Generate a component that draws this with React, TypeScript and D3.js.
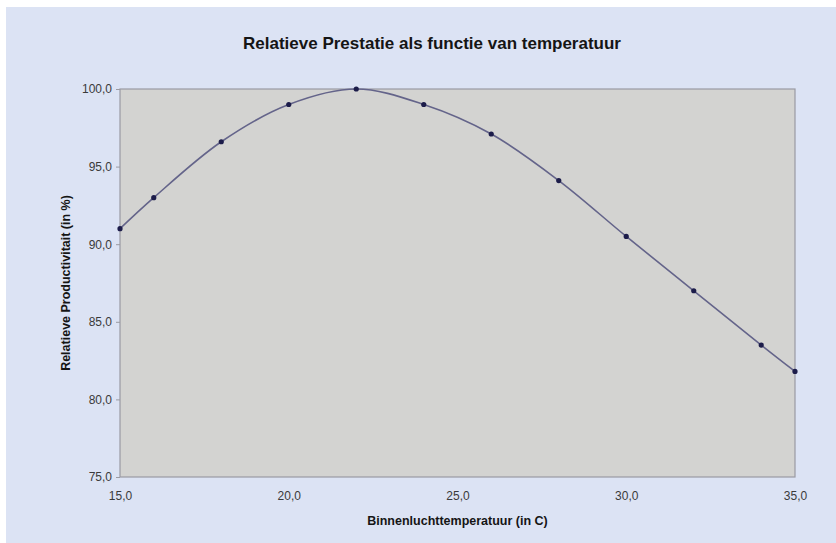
import React, { useRef, useEffect } from 'react';
import * as d3 from 'd3';

const TEMPS: number[] = [15, 16, 18, 20, 22, 24, 26, 28, 30, 32, 34, 35];
const PERFORMANCE: number[] = [91.0, 93.0, 96.6, 99.0, 100.0, 99.0, 97.1, 94.1, 90.5, 87.0, 83.5, 81.8];
const X_TICKS: number[] = [15, 20, 25, 30, 35];
const Y_TICKS: number[] = [75, 80, 85, 90, 95, 100];

const W = 836;
const H = 543;
const FONT = 'Liberation Sans, Arial, sans-serif';

const App: React.FC = () => {
  const svgRef = useRef<SVGSVGElement>(null);

  useEffect(() => {
    if (!svgRef.current) return;
    const svg = d3.select(svgRef.current);
    svg.selectAll('*').remove();

    const plot = { left: 120, right: 795, top: 89, bottom: 477 };
    const fmt = (v: number) => v.toFixed(1).replace('.', ',');

    // page + chart background
    svg.append('rect').attr('width', W).attr('height', H).attr('fill', '#ffffff');
    svg.append('rect')
      .attr('x', 6).attr('y', 7).attr('width', W - 6).attr('height', H - 7)
      .attr('fill', '#dce3f4');

    const x = d3.scaleLinear().domain([15, 35]).range([plot.left, plot.right]);
    const y = d3.scaleLinear().domain([75, 100]).range([plot.bottom, plot.top]);

    // plot area
    svg.append('rect')
      .attr('x', plot.left).attr('y', plot.top)
      .attr('width', plot.right - plot.left).attr('height', plot.bottom - plot.top)
      .attr('fill', '#d3d3d1')
      .attr('stroke', '#9a9aa2')
      .attr('stroke-width', 1.2);

    // Y axis
    const yAxis = svg.append('g')
      .attr('transform', `translate(${plot.left},0)`)
      .call(d3.axisLeft(y).tickValues(Y_TICKS).tickSize(4).tickPadding(4).tickFormat(d => fmt(+d)));
    yAxis.select('.domain').remove();
    yAxis.selectAll('line').attr('stroke', '#9a9aa2');
    yAxis.selectAll('text')
      .attr('fill', '#3a3a3a')
      .attr('font-size', '12px')
      .attr('font-family', FONT);

    // X axis
    const xAxis = svg.append('g')
      .attr('transform', `translate(0,${plot.bottom})`)
      .call(d3.axisBottom(x).tickValues(X_TICKS).tickSize(0).tickPadding(14).tickFormat(d => fmt(+d)));
    xAxis.select('.domain').remove();
    xAxis.selectAll('text')
      .attr('fill', '#3a3a3a')
      .attr('font-size', '12px')
      .attr('font-family', FONT);

    // curve
    const pts: [number, number][] = TEMPS.map((t, i) => [t, PERFORMANCE[i]]);
    const line = d3.line<[number, number]>()
      .x(d => x(d[0]))
      .y(d => y(d[1]))
      .curve(d3.curveCatmullRom.alpha(0.5));

    svg.append('path')
      .datum(pts)
      .attr('d', line)
      .attr('fill', 'none')
      .attr('stroke', '#64648a')
      .attr('stroke-width', 1.6);

    svg.append('g')
      .selectAll('circle')
      .data(pts)
      .join('circle')
      .attr('cx', d => x(d[0]))
      .attr('cy', d => y(d[1]))
      .attr('r', 2.6)
      .attr('fill', '#1c1c4a');

    // titles
    svg.append('text')
      .attr('x', 432).attr('y', 49)
      .attr('text-anchor', 'middle')
      .attr('font-family', FONT)
      .attr('font-size', '17px')
      .attr('font-weight', 'bold')
      .attr('fill', '#151515')
      .attr('textLength', 378)
      .attr('lengthAdjust', 'spacingAndGlyphs')
      .text('Relatieve Prestatie als functie van temperatuur');

    svg.append('text')
      .attr('x', (plot.left + plot.right) / 2).attr('y', 525)
      .attr('text-anchor', 'middle')
      .attr('font-family', FONT)
      .attr('font-size', '12.5px')
      .attr('font-weight', 'bold')
      .attr('fill', '#151515')
      .text('Binnenluchttemperatuur (in C)');

    svg.append('text')
      .attr('transform', `translate(70,${(plot.top + plot.bottom) / 2}) rotate(-90)`)
      .attr('text-anchor', 'middle')
      .attr('font-family', FONT)
      .attr('font-size', '12.5px')
      .attr('font-weight', 'bold')
      .attr('fill', '#151515')
      .text('Relatieve Productivitait (in %)');
  }, []);

  return (
    <svg
      ref={svgRef}
      width={W}
      height={H}
      style={{ position: 'absolute', left: 0, top: 0, display: 'block' }}
    />
  );
};

export default App;
